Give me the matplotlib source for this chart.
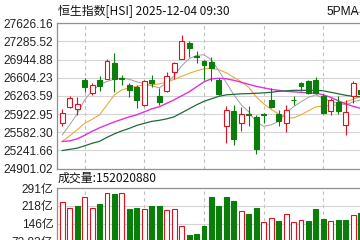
import matplotlib.pyplot as plt
import numpy as np

plt.rcParams['font.family'] = ['Liberation Sans', 'Noto Sans CJK SC', 'DejaVu Sans']

# daily candles (last one is cut by the right edge)
opens  = [25753, 26064, 26016, 26566, 26327, 26566, 26590, 26879, 26590, 26472,
          26440, 26096, 26566, 26265, 26359, 26710, 26954, 27254, 27016, 26922,
          26903, 26566, 25706, 25971, 25758, 25915, 25877, 25915, 26190, 25927,
          25764, 26195, 26515, 26534, 26566, 26265, 25971, 26158, 25721, 26265, 26380]
closes = [25952, 26222, 26110, 26429, 26466, 26453, 26928, 26579, 26585, 26378,
          26190, 26547, 26515, 26158, 26628, 26879, 27285, 27172, 26985, 26847,
          26781, 26303, 26002, 25449, 25922, 25900, 25270, 25905, 26053, 25796,
          26002, 26185, 26453, 26327, 26316, 25941, 26190, 25971, 25960, 26515, 26290]
highs  = [26016, 26265, 26241, 26598, 26504, 26628, 26954, 27078, 26660, 26504,
          26472, 26566, 26660, 26410, 26710, 26909, 27410, 27285, 27110, 26941,
          26997, 26598, 26078, 26096, 26059, 26078, 25909, 25940, 26410, 26002,
          26096, 26265, 26520, 26566, 26616, 26303, 26222, 26265, 26190, 26534, 26400]
lows   = [25702, 26034, 25909, 26346, 26284, 26365, 26579, 26346, 26470, 26252,
          26034, 26078, 26440, 26096, 26346, 26579, 26954, 27003, 26885, 26566,
          26534, 26284, 25377, 25345, 25608, 25702, 25167, 25764, 26034, 25693,
          25595, 26096, 26365, 26303, 26303, 25927, 25909, 25927, 25533, 26128, 26250]

# volume, in 亿
volume = [233, 208, 218, 254, 208, 226, 270, 266, 270, 205,
          208, 204, 218, 218, 200, 204, 134, 98, 102, 135,
          255, 218, 254, 238, 196, 185, 209, 150, 167, 156,
          183, 150, 159, 156, 204, 163, 154, 160, 160, 179, 189]

# moving averages
ma5  = [25533, 25721, 25927, 26190, 26359, 26472, 26534, 26579, 26598, 26575,
        26528, 26490, 26453, 26415, 26509, 26641, 26828, 26960, 27025, 27035,
        26941, 26734, 26509, 26284, 26096, 25965, 25777, 25693, 25721, 25783,
        25946, 26059, 26153, 26237, 26284, 26218, 26162, 26124, 26096, 26153, 26190]
ma10 = [25411, 25514, 25627, 25749, 25824, 25909, 26096, 26284, 26378, 26415,
        26443, 26472, 26472, 26490, 26519, 26575, 26631, 26687, 26734, 26772,
        26781, 26753, 26697, 26612, 26528, 26425, 26246, 26115, 26012, 25927,
        25852, 25852, 25909, 25984, 26059, 26072, 26081, 26096, 26153, 26200, 26256]
ma20 = [25407, 25420, 25458, 25524, 25599, 25665, 25721, 25777, 25824, 25871,
        25909, 25965, 26021, 26059, 26124, 26190, 26265, 26340, 26434, 26528,
        26584, 26594, 26584, 26556, 26519, 26481, 26443, 26415, 26387, 26368,
        26350, 26340, 26331, 26321, 26312, 26284, 26237, 26171, 26115, 26068, 26030]
ma60 = [25238, 25261, 25283, 25327, 25374, 25411, 25486, 25552, 25608, 25655,
        25711, 25749, 25786, 25805, 25833, 25871, 25946, 26021, 26096, 26162,
        26209, 26256, 26284, 26293, 26303, 26307, 26312, 26321, 26331, 26350,
        26359, 26368, 26368, 26368, 26368, 26359, 26331, 26303, 26275, 26256, 26246]

price_ticks = [24901.02, 25241.66, 25582.30, 25922.95, 26263.59,
               26604.23, 26944.88, 27285.52, 27626.16]
price_labels = ['24901.02', '25241.66', '25582.30', '25922.95', '26263.59',
                '26604.23', '26944.88', '27285.52', '27626.16']
vol_ticks = [72.82, 145.64, 218.46, 291.28]
vol_labels = ['72.82亿', '146亿', '218亿', '291亿']
vgrid_days = [3, 11, 19, 27, 35]

RED = '#e0101e'
GREEN = '#0a7d0a'

x = np.arange(len(opens))
o = np.array(opens); c = np.array(closes)
up = c >= o
prev = np.concatenate([[o[0]], c[:-1]])
vol_up = c >= prev

fig = plt.figure(figsize=(3.6, 2.4), dpi=100)
ax = fig.add_axes([0.1597, 0.2979, 0.868, 0.605])
av = fig.add_axes([0.1597, -0.0779, 0.868, 0.2933])

xlim = (-0.64, 41.25)
w = 0.66

# price panel
ax.vlines(x, lows, highs, colors=np.where(up, RED, GREEN), lw=0.8, zorder=3)
body = np.maximum(np.abs(c - o), 6)
ax.bar(x, body, bottom=np.minimum(o, c), width=w,
       color=np.where(up, 'white', GREEN), edgecolor=np.where(up, RED, GREEN),
       lw=0.8, zorder=4)
ax.plot(x, ma5, color='#a0a0a0', lw=0.7, zorder=2)
ax.plot(x, ma10, color='#f0a838', lw=0.8, zorder=2)
ax.plot(x, ma20, color='#e030e0', lw=1.0, zorder=2)
ax.plot(x, ma60, color='#1d6b3c', lw=0.9, zorder=2)

ax.set_xlim(*xlim)
ax.set_ylim(price_ticks[0], price_ticks[-1])
ax.set_yticks(price_ticks)
ax.set_yticklabels(price_labels, fontsize=8.6, color='#222222')
ax.set_xticks(vgrid_days)
ax.set_xticklabels([])
ax.tick_params(length=0, pad=3)
ax.grid(axis='y', color='#d4d4d4', lw=0.8)
ax.grid(axis='x', color='#bdbdbd', lw=0.8, ls=(0, (3, 3)))
ax.set_axisbelow(True)
for s in ['right']:
    ax.spines[s].set_visible(False)
ax.spines['top'].set_color('#909090')
ax.spines['bottom'].set_color('#909090')
ax.spines['left'].set_color('#909090')
for s in ax.spines.values():
    s.set_linewidth(0.9)

# volume panel
av.bar(x, volume, width=w, color=np.where(vol_up, 'white', GREEN),
       edgecolor=np.where(vol_up, RED, GREEN), lw=0.8, zorder=3)
av.set_xlim(*xlim)
av.set_ylim(0, vol_ticks[-1])
av.set_yticks(vol_ticks)
av.set_yticklabels(vol_labels, fontsize=8.6, color='#222222')
av.set_xticks(vgrid_days)
av.set_xticklabels([])
av.tick_params(length=0, pad=3)
av.grid(axis='y', color='#d4d4d4', lw=0.8)
av.grid(axis='x', color='#bdbdbd', lw=0.8, ls=(0, (3, 3)))
av.set_axisbelow(True)
av.spines['right'].set_visible(False)
av.spines['bottom'].set_visible(False)
av.spines['top'].set_color('#909090')
av.spines['left'].set_color('#909090')
for s in av.spines.values():
    s.set_linewidth(0.9)

fig.text(0.161, 0.952, '恒生指数[HSI] 2025-12-04 09:30', fontsize=8.6,
         va='center', ha='left', color='#111111',
         family=['Noto Sans CJK SC', 'DejaVu Sans'])
fig.text(0.908, 0.952, '5PMA', fontsize=8.6, va='center', ha='left', color='#111111')
fig.lines.append(plt.Line2D([0.978, 1.0], [0.952, 0.952], transform=fig.transFigure,
                            color='#a0a0a0', lw=0.8))
fig.text(0.161, 0.258, '成交量:152020880', fontsize=8.6, va='center', ha='left',
         color='#111111', family=['Noto Sans CJK SC', 'DejaVu Sans'])

fig.savefig('out.png', dpi=100)
